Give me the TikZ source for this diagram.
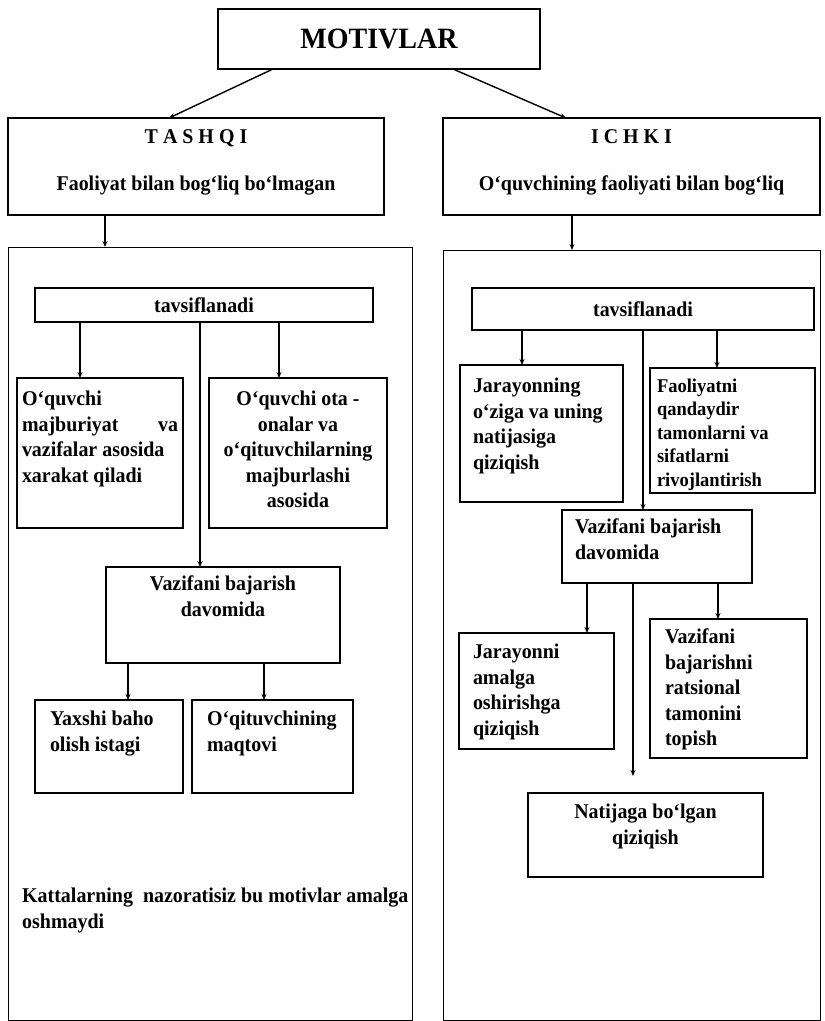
\documentclass[tikz,border=0pt]{standalone}
\usepackage{fontspec}
\setmainfont{Liberation Serif}[FakeStretch=0.95]
\usetikzlibrary{arrows.meta}

% matn bloki: kenglik, balandlik, yuqori bo'shliq, tekislash, matn
\newcommand{\cell}[5]{\parbox[c][#2][t]{#1}{\vspace*{#3}#4\strut #5}}

\begin{document}
\begin{tikzpicture}[x=1pt, y=-1pt,
    every node/.style={font=\fontsize{21}{25.5}\selectfont\bfseries},
    box/.style={draw, line width=1.3pt, anchor=north west, inner ysep=0pt, outer sep=0pt},
    panel/.style={draw, line width=1pt, anchor=north west, inner sep=0pt, outer sep=0pt},
    arr/.style={-{Stealth[length=6pt, width=5pt]}, line width=1.4pt}]
    \useasboundingbox (0,0) rectangle (825,1021);

    % Bosh blok
    \node[draw, line width=1.3pt, anchor=north west, minimum width=322pt, minimum height=60pt,
          outer sep=0pt, font=\fontsize{29.5}{32}\selectfont\bfseries] (mot) at (218,9) {MOTIVLAR};

    % Tashqi va ichki
    \node[box, inner xsep=5pt] (tashqi) at (8,118)
        {\cell{366pt}{97pt}{8pt}{\centering}{T A S H Q I\\[21.5pt] Faoliyat bilan bog‘liq bo‘lmagan}};
    \node[box, inner xsep=5pt] (ichki) at (443,118)
        {\cell{367pt}{97pt}{8pt}{\centering}{I C H K I\\[21.5pt] O‘quvchining faoliyati bilan bog‘liq}};

    % Katta ramkalar
    \node[panel, minimum width=404pt, minimum height=773pt] (panL) at (8,247) {};
    \node[panel, minimum width=377pt, minimum height=770pt] (panR) at (443,250) {};

    % Chap tomon
    \node[box, minimum width=338pt, minimum height=34pt, inner sep=0pt] (tavL) at (35,288) {tavsiflanadi};
    \node[box, inner xsep=5pt] (l1) at (17,378)
        {\cell{156pt}{150pt}{10pt}{\raggedright}{O‘quvchi\\ majburiyat\hfill va\\ vazifalar asosida\\ xarakat qiladi}};
    \node[box, inner xsep=5pt] (l2) at (209,378)
        {\cell{168pt}{150pt}{10pt}{\centering}{O‘quvchi ota -\\ onalar va\\ o‘qituvchilarning\\ majburlashi\\ asosida}};
    \node[box, inner xsep=5pt] (vazL) at (106,567)
        {\cell{224pt}{96pt}{6pt}{\centering}{Vazifani bajarish\\ davomida}};
    \node[box, inner xsep=15pt] (l3) at (35,700)
        {\cell{118pt}{93pt}{8pt}{\raggedright}{Yaxshi baho\\ olish istagi}};
    \node[box, inner xsep=15pt] (l4) at (192,700)
        {\cell{131pt}{93pt}{8pt}{\raggedright}{O‘qituvchining\\ maqtovi}};
    \node[anchor=north west, align=left, inner sep=0pt] (izoh) at (22,888)
        {Kattalarning\ \ nazoratisiz bu motivlar amalga\\ oshmaydi};

    % O'ng tomon
    \node[box, minimum width=342pt, minimum height=42pt, inner sep=0pt] (tavR) at (472,288) {tavsiflanadi};
    \node[box, inner xsep=13pt] (r1) at (460,365)
        {\cell{137pt}{137pt}{10pt}{\raggedright}{Jarayonning\\ o‘ziga va uning\\ natijasiga\\ qiziqish}};
    \node[box, inner xsep=7pt, font=\fontsize{19.5}{23.5}\selectfont\bfseries] (r2) at (650,368)
        {\cell{151pt}{125pt}{8pt}{\raggedright}{Faoliyatni\\ qandaydir\\ tamonlarni va\\ sifatlarni\\ rivojlantirish}};
    \node[box, inner xsep=13pt] (vazR) at (562,510)
        {\cell{164pt}{73pt}{6pt}{\raggedright}{Vazifani bajarish\\ davomida}};
    \node[box, inner xsep=14pt] (r3) at (459,633)
        {\cell{127pt}{116pt}{8pt}{\raggedright}{Jarayonni\\ amalga\\ oshirishga\\ qiziqish}};
    \node[box, inner xsep=15pt] (r4) at (650,619)
        {\cell{127pt}{139pt}{7pt}{\raggedright}{Vazifani\\ bajarishni\\ ratsional\\ tamonini\\ topish}};
    \node[box, inner xsep=5pt] (nat) at (528,793)
        {\cell{225pt}{84pt}{8pt}{\centering}{Natijaga bo‘lgan\\ qiziqish}};

    % Strelkalar
    \draw[arr] (mot.south -| 273,0) -- (tashqi.north -| 169,0);
    \draw[arr] (mot.south -| 453,0) -- (ichki.north -| 566,0);
    \draw[arr] (tashqi.south -| 105,0) -- (panL.north -| 105,0);
    \draw[arr] (ichki.south -| 572,0) -- (panR.north -| 572,0);

    \draw[arr] (tavL.south -| 80,0) -- (l1.north -| 80,0);
    \draw[arr] (tavL.south -| 279,0) -- (l2.north -| 279,0);
    \draw[arr] (tavL.south -| 200,0) -- (vazL.north -| 200,0);
    \draw[arr] (vazL.south -| 128,0) -- (l3.north -| 128,0);
    \draw[arr] (vazL.south -| 264,0) -- (l4.north -| 264,0);

    \draw[arr] (tavR.south -| 522,0) -- (r1.north -| 522,0);
    \draw[arr] (tavR.south -| 717,0) -- (r2.north -| 717,0);
    \draw[arr] (tavR.south -| 643,0) -- (vazR.north -| 643,0);
    \draw[arr] (vazR.south -| 587,0) -- (r3.north -| 587,0);
    \draw[arr] (vazR.south -| 718,0) -- (r4.north -| 718,0);
    \draw[arr, shorten >=17pt] (vazR.south -| 633,0) -- (nat.north -| 633,0);

\end{tikzpicture}
\end{document}
